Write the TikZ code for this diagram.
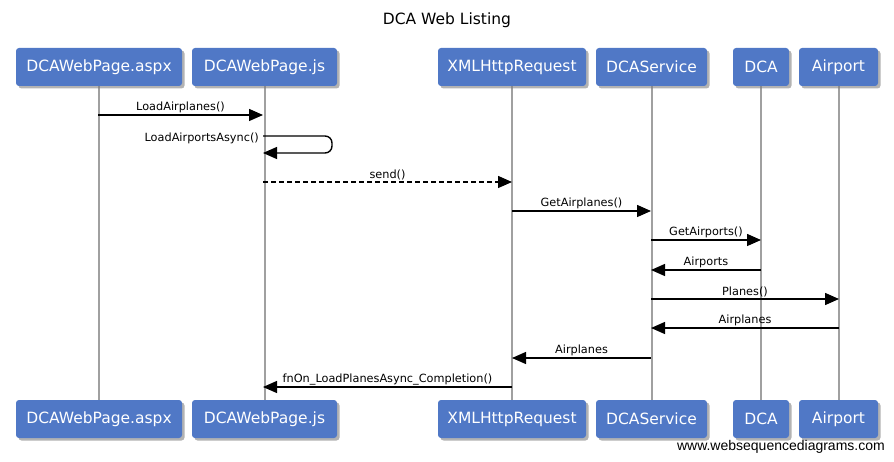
\documentclass[tikz,border=0pt]{standalone}
\usepackage{fontspec}
\setmainfont{DejaVu Sans}
\newfontfamily\wmfont{Liberation Sans}
\usetikzlibrary{arrows.meta,shadows}
\definecolor{actorblue}{RGB}{80,120,198}
\definecolor{lifegray}{RGB}{160,160,160}

\begin{document}
\begin{tikzpicture}[x=1pt,y=-1pt,
  actor/.style={rounded corners=3pt,fill=actorblue,text=white,inner sep=0pt,
    minimum height=38pt,font=\fontsize{15.5}{18}\selectfont,
    drop shadow={shadow xshift=2.5pt,shadow yshift=-2.5pt,opacity=0.6}},
  lifeline/.style={draw=lifegray,line width=2pt},
  msg/.style={line width=1.4pt,-{Triangle[length=14pt,width=12pt]}},
  lbl/.style={font=\fontsize{11.3}{13}\selectfont,inner sep=1pt}]
\useasboundingbox (0,0) rectangle (894,462);

\node (title) at (447,20) {\fontsize{15.5}{18}\selectfont DCA Web Listing};

% actors, top and bottom
\foreach \n/\t/\x/\w in {aspx/DCAWebPage.aspx/99/166, js/DCAWebPage.js/264.5/145,
    xhr/XMLHttpRequest/512/148, svc/DCAService/651.5/111, dca/DCA/761/56, apt/Airport/838.5/79}
{
  \draw[lifeline] (\x,86) -- (\x,400);
  \node[actor,minimum width=\w pt] (top\n) at (\x,67) {\t};
  \node[actor,minimum width=\w pt] (bot\n) at (\x,419) {\t};
}

% message end points on the lifelines
\coordinate (m1a) at (98,115);  \coordinate (m1b) at (263,115);
\coordinate (s1a) at (263,136); \coordinate (s1b) at (263,153);
\coordinate (m2a) at (263,182); \coordinate (m2b) at (512,182);
\coordinate (m3a) at (512,211); \coordinate (m3b) at (651,211);
\coordinate (m4a) at (651,240); \coordinate (m4b) at (761,240);
\coordinate (m5a) at (761,270); \coordinate (m5b) at (651,270);
\coordinate (m6a) at (651,299); \coordinate (m6b) at (839,299);
\coordinate (m7a) at (839,328); \coordinate (m7b) at (651,328);
\coordinate (m8a) at (651,358); \coordinate (m8b) at (512,358);
\coordinate (m9a) at (512,387); \coordinate (m9b) at (263,387);

\draw[msg] (m1a) -- node[lbl,above]{LoadAirplanes()} (m1b);
\draw[msg,rounded corners=7pt] (s1a) -- ++(69,0) |- (s1b);
\node[lbl,anchor=east] (s1lbl) at (260,138) {LoadAirportsAsync()};
\draw[msg,dashed,dash pattern=on 5pt off 3pt] (m2a) -- node[lbl,above]{send()} (m2b);
\draw[msg] (m3a) -- node[lbl,above]{GetAirplanes()} (m3b);
\draw[msg] (m4a) -- node[lbl,above]{GetAirports()} (m4b);
\draw[msg] (m5a) -- node[lbl,above]{Airports} (m5b);
\draw[msg] (m6a) -- node[lbl,above]{Planes()} (m6b);
\draw[msg] (m7a) -- node[lbl,above]{Airplanes} (m7b);
\draw[msg] (m8a) -- node[lbl,above]{Airplanes} (m8b);
\draw[msg] (m9a) -- node[lbl,above]{fnOn\_LoadPlanesAsync\_Completion()} (m9b);

\node[anchor=east,inner sep=0pt] (wsd) at (885,447) {\wmfont\fontsize{14}{16}\selectfont www.websequencediagrams.com};
\end{tikzpicture}
\end{document}
